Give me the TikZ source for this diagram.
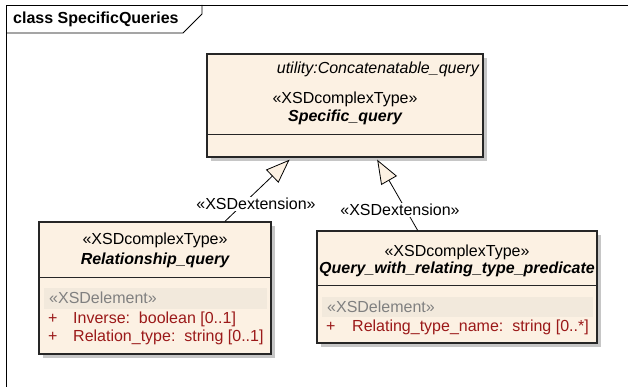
\documentclass[tikz,border=0pt]{standalone}
\usepackage{fontspec}
\setmainfont{Liberation Sans}
\usetikzlibrary{arrows.meta,calc,shadows}
\definecolor{classfill}{RGB}{252,241,227}
\definecolor{barfill}{RGB}{242,233,220}
\definecolor{attred}{RGB}{155,25,25}
\definecolor{shadowgray}{RGB}{198,198,198}
\definecolor{stereogray}{RGB}{128,128,128}

\begin{document}
\begin{tikzpicture}[x=1pt,y=-1pt,
  classbox/.style={draw=black!85,line width=1.4pt,fill=classfill,inner sep=0pt,
    drop shadow={shadow xshift=4pt,shadow yshift=-4pt,fill=shadowgray,opacity=1}},
  sepline/.style={draw=black!85,line width=1pt},
  txt/.style={inner sep=0pt,font=\fontsize{16}{19}\selectfont},
  attr/.style={txt,anchor=west,text=attred},
  elem/.style={txt,anchor=west,text=stereogray},
  extends/.style={draw=black,line width=0.8pt,
    -{Triangle[length=24pt,width=18pt,fill=classfill,line join=miter]}}]

\useasboundingbox (0,0) rectangle (628,387);

% frame and tab
\draw[line width=0.8pt] (6,387) -- (6,5) -- (628,5);
\draw[line width=0.8pt] (6,33) -- (183,33) -- (202,14) -- (202,5);
\node[txt,anchor=west,font=\fontsize{16}{19}\selectfont\bfseries] (title) at (13,19) {class SpecificQueries};

% Specific_query
\node[classbox,minimum width=276pt,minimum height=103pt] (specq) at (345,105.5) {};
\draw[sepline] ($(specq.south west)+(0,-23)$) -- ($(specq.south east)+(0,-23)$);
\node[txt,anchor=east,font=\fontsize{16}{19}\selectfont\itshape] (specutil) at (479,69) {utility:Concatenatable\_query};
\node[txt] (specster) at (345,99) {«XSDcomplexType»};
\node[txt,font=\fontsize{16}{19}\selectfont\bfseries\itshape] (specname) at (345,117) {Specific\_query};

% Relationship_query
\node[classbox,minimum width=232pt,minimum height=132pt] (relq) at (155,288) {};
\draw[sepline] ($(relq.north west)+(0,56)$) -- ($(relq.north east)+(0,56)$);
\fill[barfill] (44,288) rectangle (267,309);
\node[txt] (relster) at (155,240) {«XSDcomplexType»};
\node[txt,font=\fontsize{16}{19}\selectfont\bfseries\itshape] (relname) at (155,260) {Relationship\_query};
\node[elem] (relelem) at (49,298) {«XSDelement»};
\node[attr] (relplusa) at (48,319) {+};
\node[attr] (relinv) at (73,319) {Inverse:\ \ boolean [0..1]};
\node[attr] (relplusb) at (48,337) {+};
\node[attr] (reltype) at (73,337) {Relation\_type:\ \ string [0..1]};

% Query_with_relating_type_predicate
\node[classbox,minimum width=280pt,minimum height=112pt] (predq) at (457,287) {};
\draw[sepline] ($(predq.north west)+(0,55)$) -- ($(predq.north east)+(0,55)$);
\fill[barfill] (322,297) rectangle (593,317);
\node[txt] (predster) at (457,252) {«XSDcomplexType»};
\node[txt,font=\fontsize{16}{19}\selectfont\bfseries\itshape] (predname) at (457,269) {Query\_with\_relating\_type\_predicate};
\node[elem] (predelem) at (327,307) {«XSDelement»};
\node[attr] (predplus) at (326,327) {+};
\node[attr] (predrel) at (352,327) {Relating\_type\_name:\ \ string [0..*]};

% generalisations
\draw[extends] ($(relq.north west)!0.80!(relq.north east)$) -- ($(specq.south west)!0.30!(specq.south east)+(0,2)$);
\draw[extends] ($(predq.north west)!0.36!(predq.north east)$) -- ($(specq.south west)!0.616!(specq.south east)+(0,2)$);
\node[txt,fill=white,inner sep=1pt] (extl) at (256,204) {«XSDextension»};
\node[txt,fill=white,inner sep=1pt] (extr) at (400,210) {«XSDextension»};

\end{tikzpicture}
\end{document}
